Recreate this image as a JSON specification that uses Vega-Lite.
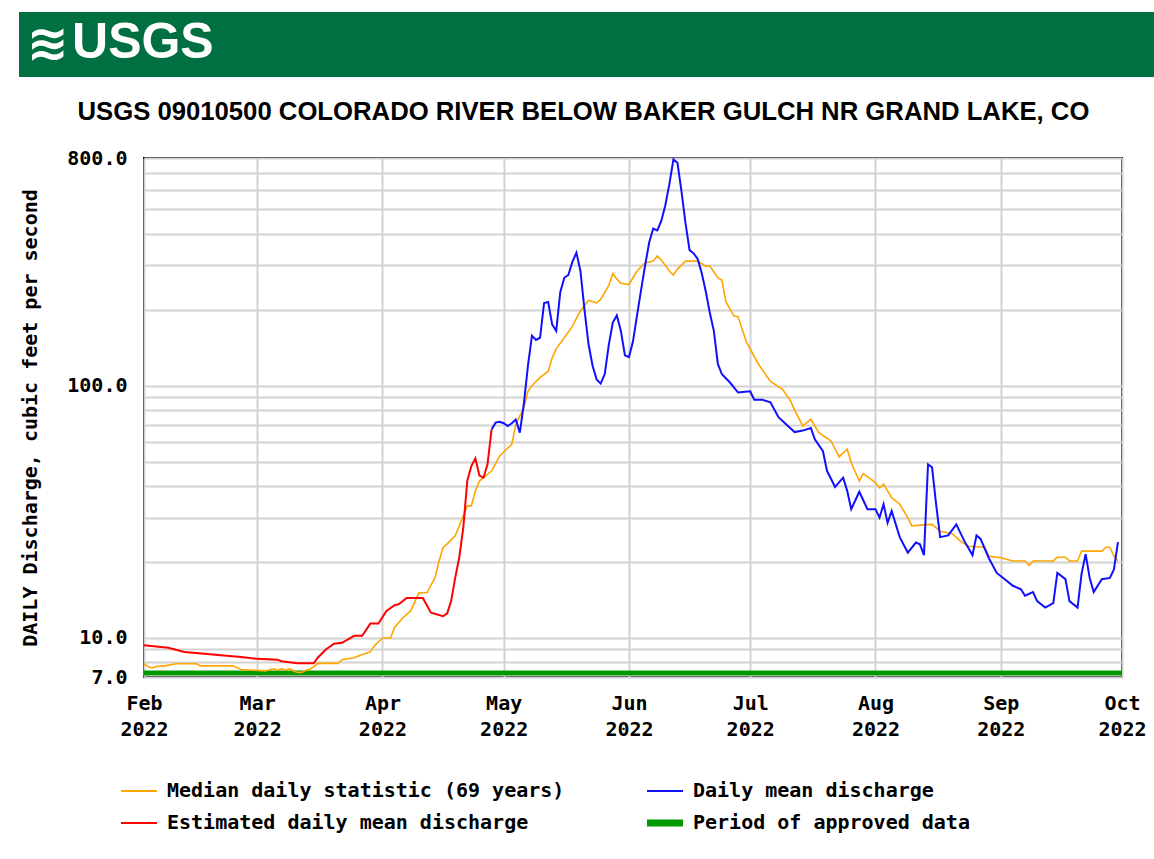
{
  "$schema": "https://vega.github.io/schema/vega-lite/v6.json",
  "background": "white",
  "padding": {"left": 19, "top": 12, "right": 0, "bottom": 0},
  "spacing": 21,
  "resolve": {"legend": {"color": "independent"}},
  "config": {
    "axis": {"labelColor": "black", "titleColor": "black"}
  },
  "vconcat": [
    {
      "width": 978,
      "height": 65,
      "view": {"stroke": null},
      "data": {"values": [{"logo": "≋", "name": "USGS"}]},
      "layer": [
        {
          "mark": {"type": "rect", "color": "#006F41"},
          "encoding": {
            "x": {"datum": -0.1278, "type": "quantitative", "scale": {"domain": [0, 1]}, "axis": null},
            "x2": {"datum": 1.0327},
            "y": {"datum": 0, "type": "quantitative", "scale": {"domain": [0, 1]}, "axis": null},
            "y2": {"datum": 1}
          }
        },
        {
          "mark": {"type": "text", "align": "left", "baseline": "middle", "font": "DejaVu Sans", "fontSize": 50, "fontWeight": "bold", "color": "white"},
          "encoding": {
            "x": {"datum": -0.1196, "type": "quantitative"},
            "y": {"datum": 0.5, "type": "quantitative"},
            "text": {"field": "logo"}
          }
        },
        {
          "mark": {"type": "text", "align": "left", "baseline": "middle", "font": "Liberation Sans Narrow, Liberation Sans, sans-serif", "fontWeight": "bold", "fontSize": 50, "color": "white"},
          "encoding": {
            "x": {"datum": -0.0736, "type": "quantitative"},
            "y": {"datum": 0.52, "type": "quantitative"},
            "text": {"field": "name"}
          }
        }
      ]
    },
    {
      "width": 978,
      "height": 519,
      "view": {"stroke": "black", "strokeWidth": 2},
      "title": {
        "text": "USGS 09010500 COLORADO RIVER BELOW BAKER GULCH NR GRAND LAKE, CO",
        "anchor": "middle",
        "frame": "bounds",
        "font": "Liberation Sans",
        "fontSize": 25.7,
        "fontWeight": "bold",
        "color": "black",
        "offset": 22
      },
      "data": {
        "values": [
          {"date": "2022-02-01", "value": 7.26, "series": "Period of approved data"},
          {"date": "2022-10-01", "value": 7.26, "series": "Period of approved data"},

          {"date": "2022-02-01", "value": 7.9, "series": "Median daily statistic (69 years)"},
          {"date": "2022-02-02", "value": 7.7, "series": "Median daily statistic (69 years)"},
          {"date": "2022-02-03", "value": 7.6, "series": "Median daily statistic (69 years)"},
          {"date": "2022-02-04", "value": 7.7, "series": "Median daily statistic (69 years)"},
          {"date": "2022-02-06", "value": 7.75, "series": "Median daily statistic (69 years)"},
          {"date": "2022-02-09", "value": 7.9, "series": "Median daily statistic (69 years)"},
          {"date": "2022-02-14", "value": 7.9, "series": "Median daily statistic (69 years)"},
          {"date": "2022-02-15", "value": 7.75, "series": "Median daily statistic (69 years)"},
          {"date": "2022-02-23", "value": 7.75, "series": "Median daily statistic (69 years)"},
          {"date": "2022-02-25", "value": 7.5, "series": "Median daily statistic (69 years)"},
          {"date": "2022-02-28", "value": 7.45, "series": "Median daily statistic (69 years)"},
          {"date": "2022-03-03", "value": 7.4, "series": "Median daily statistic (69 years)"},
          {"date": "2022-03-05", "value": 7.55, "series": "Median daily statistic (69 years)"},
          {"date": "2022-03-06", "value": 7.45, "series": "Median daily statistic (69 years)"},
          {"date": "2022-03-07", "value": 7.55, "series": "Median daily statistic (69 years)"},
          {"date": "2022-03-08", "value": 7.45, "series": "Median daily statistic (69 years)"},
          {"date": "2022-03-09", "value": 7.55, "series": "Median daily statistic (69 years)"},
          {"date": "2022-03-10", "value": 7.4, "series": "Median daily statistic (69 years)"},
          {"date": "2022-03-11", "value": 7.3, "series": "Median daily statistic (69 years)"},
          {"date": "2022-03-12", "value": 7.3, "series": "Median daily statistic (69 years)"},
          {"date": "2022-03-13", "value": 7.45, "series": "Median daily statistic (69 years)"},
          {"date": "2022-03-14", "value": 7.5, "series": "Median daily statistic (69 years)"},
          {"date": "2022-03-15", "value": 7.7, "series": "Median daily statistic (69 years)"},
          {"date": "2022-03-16", "value": 7.93, "series": "Median daily statistic (69 years)"},
          {"date": "2022-03-21", "value": 7.93, "series": "Median daily statistic (69 years)"},
          {"date": "2022-03-22", "value": 8.2, "series": "Median daily statistic (69 years)"},
          {"date": "2022-03-25", "value": 8.35, "series": "Median daily statistic (69 years)"},
          {"date": "2022-03-27", "value": 8.6, "series": "Median daily statistic (69 years)"},
          {"date": "2022-03-29", "value": 8.8, "series": "Median daily statistic (69 years)"},
          {"date": "2022-03-30", "value": 9.3, "series": "Median daily statistic (69 years)"},
          {"date": "2022-04-01", "value": 10.0, "series": "Median daily statistic (69 years)"},
          {"date": "2022-04-03", "value": 10.0, "series": "Median daily statistic (69 years)"},
          {"date": "2022-04-04", "value": 11.0, "series": "Median daily statistic (69 years)"},
          {"date": "2022-04-06", "value": 12.0, "series": "Median daily statistic (69 years)"},
          {"date": "2022-04-08", "value": 12.8, "series": "Median daily statistic (69 years)"},
          {"date": "2022-04-10", "value": 15.1, "series": "Median daily statistic (69 years)"},
          {"date": "2022-04-12", "value": 15.1, "series": "Median daily statistic (69 years)"},
          {"date": "2022-04-14", "value": 17.3, "series": "Median daily statistic (69 years)"},
          {"date": "2022-04-15", "value": 20.2, "series": "Median daily statistic (69 years)"},
          {"date": "2022-04-16", "value": 22.8, "series": "Median daily statistic (69 years)"},
          {"date": "2022-04-17", "value": 23.6, "series": "Median daily statistic (69 years)"},
          {"date": "2022-04-19", "value": 25.4, "series": "Median daily statistic (69 years)"},
          {"date": "2022-04-20", "value": 27.8, "series": "Median daily statistic (69 years)"},
          {"date": "2022-04-22", "value": 33.4, "series": "Median daily statistic (69 years)"},
          {"date": "2022-04-23", "value": 33.4, "series": "Median daily statistic (69 years)"},
          {"date": "2022-04-24", "value": 38.3, "series": "Median daily statistic (69 years)"},
          {"date": "2022-04-25", "value": 41.9, "series": "Median daily statistic (69 years)"},
          {"date": "2022-04-28", "value": 45.9, "series": "Median daily statistic (69 years)"},
          {"date": "2022-04-30", "value": 52.6, "series": "Median daily statistic (69 years)"},
          {"date": "2022-05-01", "value": 54.6, "series": "Median daily statistic (69 years)"},
          {"date": "2022-05-03", "value": 58.6, "series": "Median daily statistic (69 years)"},
          {"date": "2022-05-04", "value": 70, "series": "Median daily statistic (69 years)"},
          {"date": "2022-05-05", "value": 76, "series": "Median daily statistic (69 years)"},
          {"date": "2022-05-06", "value": 82, "series": "Median daily statistic (69 years)"},
          {"date": "2022-05-07", "value": 95, "series": "Median daily statistic (69 years)"},
          {"date": "2022-05-08", "value": 100, "series": "Median daily statistic (69 years)"},
          {"date": "2022-05-09", "value": 104, "series": "Median daily statistic (69 years)"},
          {"date": "2022-05-10", "value": 108, "series": "Median daily statistic (69 years)"},
          {"date": "2022-05-12", "value": 114, "series": "Median daily statistic (69 years)"},
          {"date": "2022-05-13", "value": 129, "series": "Median daily statistic (69 years)"},
          {"date": "2022-05-14", "value": 140, "series": "Median daily statistic (69 years)"},
          {"date": "2022-05-16", "value": 155, "series": "Median daily statistic (69 years)"},
          {"date": "2022-05-18", "value": 172, "series": "Median daily statistic (69 years)"},
          {"date": "2022-05-19", "value": 185, "series": "Median daily statistic (69 years)"},
          {"date": "2022-05-20", "value": 198, "series": "Median daily statistic (69 years)"},
          {"date": "2022-05-21", "value": 208, "series": "Median daily statistic (69 years)"},
          {"date": "2022-05-22", "value": 218, "series": "Median daily statistic (69 years)"},
          {"date": "2022-05-24", "value": 213, "series": "Median daily statistic (69 years)"},
          {"date": "2022-05-25", "value": 220, "series": "Median daily statistic (69 years)"},
          {"date": "2022-05-27", "value": 250, "series": "Median daily statistic (69 years)"},
          {"date": "2022-05-28", "value": 278, "series": "Median daily statistic (69 years)"},
          {"date": "2022-05-29", "value": 265, "series": "Median daily statistic (69 years)"},
          {"date": "2022-05-30", "value": 255, "series": "Median daily statistic (69 years)"},
          {"date": "2022-06-01", "value": 252, "series": "Median daily statistic (69 years)"},
          {"date": "2022-06-03", "value": 285, "series": "Median daily statistic (69 years)"},
          {"date": "2022-06-05", "value": 307, "series": "Median daily statistic (69 years)"},
          {"date": "2022-06-07", "value": 312, "series": "Median daily statistic (69 years)"},
          {"date": "2022-06-08", "value": 327, "series": "Median daily statistic (69 years)"},
          {"date": "2022-06-09", "value": 315, "series": "Median daily statistic (69 years)"},
          {"date": "2022-06-11", "value": 285, "series": "Median daily statistic (69 years)"},
          {"date": "2022-06-12", "value": 275, "series": "Median daily statistic (69 years)"},
          {"date": "2022-06-13", "value": 290, "series": "Median daily statistic (69 years)"},
          {"date": "2022-06-15", "value": 312, "series": "Median daily statistic (69 years)"},
          {"date": "2022-06-18", "value": 312, "series": "Median daily statistic (69 years)"},
          {"date": "2022-06-20", "value": 298, "series": "Median daily statistic (69 years)"},
          {"date": "2022-06-21", "value": 298, "series": "Median daily statistic (69 years)"},
          {"date": "2022-06-23", "value": 268, "series": "Median daily statistic (69 years)"},
          {"date": "2022-06-24", "value": 262, "series": "Median daily statistic (69 years)"},
          {"date": "2022-06-25", "value": 215, "series": "Median daily statistic (69 years)"},
          {"date": "2022-06-27", "value": 189, "series": "Median daily statistic (69 years)"},
          {"date": "2022-06-28", "value": 188, "series": "Median daily statistic (69 years)"},
          {"date": "2022-06-30", "value": 150, "series": "Median daily statistic (69 years)"},
          {"date": "2022-07-03", "value": 122, "series": "Median daily statistic (69 years)"},
          {"date": "2022-07-06", "value": 104, "series": "Median daily statistic (69 years)"},
          {"date": "2022-07-09", "value": 96.8, "series": "Median daily statistic (69 years)"},
          {"date": "2022-07-11", "value": 87, "series": "Median daily statistic (69 years)"},
          {"date": "2022-07-12", "value": 80, "series": "Median daily statistic (69 years)"},
          {"date": "2022-07-14", "value": 69.2, "series": "Median daily statistic (69 years)"},
          {"date": "2022-07-16", "value": 73.6, "series": "Median daily statistic (69 years)"},
          {"date": "2022-07-18", "value": 65.2, "series": "Median daily statistic (69 years)"},
          {"date": "2022-07-21", "value": 60.4, "series": "Median daily statistic (69 years)"},
          {"date": "2022-07-23", "value": 52.2, "series": "Median daily statistic (69 years)"},
          {"date": "2022-07-25", "value": 56, "series": "Median daily statistic (69 years)"},
          {"date": "2022-07-26", "value": 49.5, "series": "Median daily statistic (69 years)"},
          {"date": "2022-07-28", "value": 41.9, "series": "Median daily statistic (69 years)"},
          {"date": "2022-07-29", "value": 44.8, "series": "Median daily statistic (69 years)"},
          {"date": "2022-08-01", "value": 41.3, "series": "Median daily statistic (69 years)"},
          {"date": "2022-08-02", "value": 39.4, "series": "Median daily statistic (69 years)"},
          {"date": "2022-08-03", "value": 40.7, "series": "Median daily statistic (69 years)"},
          {"date": "2022-08-05", "value": 36, "series": "Median daily statistic (69 years)"},
          {"date": "2022-08-07", "value": 33.9, "series": "Median daily statistic (69 years)"},
          {"date": "2022-08-09", "value": 30, "series": "Median daily statistic (69 years)"},
          {"date": "2022-08-10", "value": 27.8, "series": "Median daily statistic (69 years)"},
          {"date": "2022-08-12", "value": 28, "series": "Median daily statistic (69 years)"},
          {"date": "2022-08-15", "value": 28.2, "series": "Median daily statistic (69 years)"},
          {"date": "2022-08-17", "value": 26.5, "series": "Median daily statistic (69 years)"},
          {"date": "2022-08-20", "value": 25.9, "series": "Median daily statistic (69 years)"},
          {"date": "2022-08-22", "value": 24.2, "series": "Median daily statistic (69 years)"},
          {"date": "2022-08-24", "value": 23.1, "series": "Median daily statistic (69 years)"},
          {"date": "2022-08-28", "value": 22.9, "series": "Median daily statistic (69 years)"},
          {"date": "2022-08-29", "value": 21.1, "series": "Median daily statistic (69 years)"},
          {"date": "2022-09-01", "value": 20.8, "series": "Median daily statistic (69 years)"},
          {"date": "2022-09-04", "value": 20.2, "series": "Median daily statistic (69 years)"},
          {"date": "2022-09-07", "value": 20.2, "series": "Median daily statistic (69 years)"},
          {"date": "2022-09-08", "value": 19.4, "series": "Median daily statistic (69 years)"},
          {"date": "2022-09-09", "value": 20.2, "series": "Median daily statistic (69 years)"},
          {"date": "2022-09-14", "value": 20.2, "series": "Median daily statistic (69 years)"},
          {"date": "2022-09-15", "value": 20.9, "series": "Median daily statistic (69 years)"},
          {"date": "2022-09-17", "value": 20.9, "series": "Median daily statistic (69 years)"},
          {"date": "2022-09-18", "value": 20.2, "series": "Median daily statistic (69 years)"},
          {"date": "2022-09-20", "value": 20.2, "series": "Median daily statistic (69 years)"},
          {"date": "2022-09-21", "value": 22.1, "series": "Median daily statistic (69 years)"},
          {"date": "2022-09-26", "value": 22.1, "series": "Median daily statistic (69 years)"},
          {"date": "2022-09-27", "value": 22.9, "series": "Median daily statistic (69 years)"},
          {"date": "2022-09-28", "value": 22.9, "series": "Median daily statistic (69 years)"},
          {"date": "2022-09-29", "value": 21.1, "series": "Median daily statistic (69 years)"},
          {"date": "2022-09-30", "value": 20.2, "series": "Median daily statistic (69 years)"},

          {"date": "2022-02-01", "value": 9.35, "series": "Estimated daily mean discharge"},
          {"date": "2022-02-07", "value": 9.15, "series": "Estimated daily mean discharge"},
          {"date": "2022-02-11", "value": 8.8, "series": "Estimated daily mean discharge"},
          {"date": "2022-02-16", "value": 8.66, "series": "Estimated daily mean discharge"},
          {"date": "2022-02-20", "value": 8.53, "series": "Estimated daily mean discharge"},
          {"date": "2022-02-25", "value": 8.4, "series": "Estimated daily mean discharge"},
          {"date": "2022-03-01", "value": 8.26, "series": "Estimated daily mean discharge"},
          {"date": "2022-03-06", "value": 8.2, "series": "Estimated daily mean discharge"},
          {"date": "2022-03-07", "value": 8.08, "series": "Estimated daily mean discharge"},
          {"date": "2022-03-11", "value": 7.93, "series": "Estimated daily mean discharge"},
          {"date": "2022-03-15", "value": 7.93, "series": "Estimated daily mean discharge"},
          {"date": "2022-03-16", "value": 8.35, "series": "Estimated daily mean discharge"},
          {"date": "2022-03-18", "value": 9.0, "series": "Estimated daily mean discharge"},
          {"date": "2022-03-20", "value": 9.49, "series": "Estimated daily mean discharge"},
          {"date": "2022-03-22", "value": 9.57, "series": "Estimated daily mean discharge"},
          {"date": "2022-03-25", "value": 10.2, "series": "Estimated daily mean discharge"},
          {"date": "2022-03-27", "value": 10.2, "series": "Estimated daily mean discharge"},
          {"date": "2022-03-29", "value": 11.4, "series": "Estimated daily mean discharge"},
          {"date": "2022-03-31", "value": 11.4, "series": "Estimated daily mean discharge"},
          {"date": "2022-04-02", "value": 12.8, "series": "Estimated daily mean discharge"},
          {"date": "2022-04-04", "value": 13.5, "series": "Estimated daily mean discharge"},
          {"date": "2022-04-05", "value": 13.6, "series": "Estimated daily mean discharge"},
          {"date": "2022-04-07", "value": 14.4, "series": "Estimated daily mean discharge"},
          {"date": "2022-04-11", "value": 14.4, "series": "Estimated daily mean discharge"},
          {"date": "2022-04-13", "value": 12.6, "series": "Estimated daily mean discharge"},
          {"date": "2022-04-16", "value": 12.2, "series": "Estimated daily mean discharge"},
          {"date": "2022-04-17", "value": 12.5, "series": "Estimated daily mean discharge"},
          {"date": "2022-04-18", "value": 14.0, "series": "Estimated daily mean discharge"},
          {"date": "2022-04-19", "value": 17.3, "series": "Estimated daily mean discharge"},
          {"date": "2022-04-20", "value": 20.8, "series": "Estimated daily mean discharge"},
          {"date": "2022-04-21", "value": 27.3, "series": "Estimated daily mean discharge"},
          {"date": "2022-04-22", "value": 42, "series": "Estimated daily mean discharge"},
          {"date": "2022-04-23", "value": 48, "series": "Estimated daily mean discharge"},
          {"date": "2022-04-24", "value": 51.5, "series": "Estimated daily mean discharge"},
          {"date": "2022-04-25", "value": 44, "series": "Estimated daily mean discharge"},
          {"date": "2022-04-26", "value": 43.2, "series": "Estimated daily mean discharge"},
          {"date": "2022-04-27", "value": 48.8, "series": "Estimated daily mean discharge"},
          {"date": "2022-04-28", "value": 67, "series": "Estimated daily mean discharge"},

          {"date": "2022-04-28", "value": 67, "series": "Daily mean discharge"},
          {"date": "2022-04-29", "value": 71.4, "series": "Daily mean discharge"},
          {"date": "2022-04-30", "value": 72, "series": "Daily mean discharge"},
          {"date": "2022-05-01", "value": 71, "series": "Daily mean discharge"},
          {"date": "2022-05-02", "value": 69.2, "series": "Daily mean discharge"},
          {"date": "2022-05-03", "value": 71, "series": "Daily mean discharge"},
          {"date": "2022-05-04", "value": 73.5, "series": "Daily mean discharge"},
          {"date": "2022-05-05", "value": 65.2, "series": "Daily mean discharge"},
          {"date": "2022-05-06", "value": 85, "series": "Daily mean discharge"},
          {"date": "2022-05-07", "value": 120, "series": "Daily mean discharge"},
          {"date": "2022-05-08", "value": 158, "series": "Daily mean discharge"},
          {"date": "2022-05-09", "value": 152, "series": "Daily mean discharge"},
          {"date": "2022-05-10", "value": 155, "series": "Daily mean discharge"},
          {"date": "2022-05-11", "value": 213, "series": "Daily mean discharge"},
          {"date": "2022-05-12", "value": 215, "series": "Daily mean discharge"},
          {"date": "2022-05-13", "value": 175, "series": "Daily mean discharge"},
          {"date": "2022-05-14", "value": 165, "series": "Daily mean discharge"},
          {"date": "2022-05-15", "value": 235, "series": "Daily mean discharge"},
          {"date": "2022-05-16", "value": 268, "series": "Daily mean discharge"},
          {"date": "2022-05-17", "value": 275, "series": "Daily mean discharge"},
          {"date": "2022-05-18", "value": 310, "series": "Daily mean discharge"},
          {"date": "2022-05-19", "value": 337, "series": "Daily mean discharge"},
          {"date": "2022-05-20", "value": 285, "series": "Daily mean discharge"},
          {"date": "2022-05-21", "value": 200, "series": "Daily mean discharge"},
          {"date": "2022-05-22", "value": 146, "series": "Daily mean discharge"},
          {"date": "2022-05-23", "value": 120, "series": "Daily mean discharge"},
          {"date": "2022-05-24", "value": 106, "series": "Daily mean discharge"},
          {"date": "2022-05-25", "value": 102, "series": "Daily mean discharge"},
          {"date": "2022-05-26", "value": 111, "series": "Daily mean discharge"},
          {"date": "2022-05-27", "value": 145, "series": "Daily mean discharge"},
          {"date": "2022-05-28", "value": 178, "series": "Daily mean discharge"},
          {"date": "2022-05-29", "value": 190, "series": "Daily mean discharge"},
          {"date": "2022-05-30", "value": 165, "series": "Daily mean discharge"},
          {"date": "2022-05-31", "value": 132, "series": "Daily mean discharge"},
          {"date": "2022-06-01", "value": 130, "series": "Daily mean discharge"},
          {"date": "2022-06-02", "value": 150, "series": "Daily mean discharge"},
          {"date": "2022-06-03", "value": 190, "series": "Daily mean discharge"},
          {"date": "2022-06-04", "value": 240, "series": "Daily mean discharge"},
          {"date": "2022-06-05", "value": 300, "series": "Daily mean discharge"},
          {"date": "2022-06-06", "value": 370, "series": "Daily mean discharge"},
          {"date": "2022-06-07", "value": 420, "series": "Daily mean discharge"},
          {"date": "2022-06-08", "value": 413, "series": "Daily mean discharge"},
          {"date": "2022-06-09", "value": 450, "series": "Daily mean discharge"},
          {"date": "2022-06-10", "value": 520, "series": "Daily mean discharge"},
          {"date": "2022-06-11", "value": 630, "series": "Daily mean discharge"},
          {"date": "2022-06-12", "value": 790, "series": "Daily mean discharge"},
          {"date": "2022-06-13", "value": 766, "series": "Daily mean discharge"},
          {"date": "2022-06-14", "value": 590, "series": "Daily mean discharge"},
          {"date": "2022-06-15", "value": 440, "series": "Daily mean discharge"},
          {"date": "2022-06-16", "value": 345, "series": "Daily mean discharge"},
          {"date": "2022-06-17", "value": 335, "series": "Daily mean discharge"},
          {"date": "2022-06-18", "value": 318, "series": "Daily mean discharge"},
          {"date": "2022-06-19", "value": 280, "series": "Daily mean discharge"},
          {"date": "2022-06-20", "value": 237, "series": "Daily mean discharge"},
          {"date": "2022-06-21", "value": 195, "series": "Daily mean discharge"},
          {"date": "2022-06-22", "value": 165, "series": "Daily mean discharge"},
          {"date": "2022-06-23", "value": 122, "series": "Daily mean discharge"},
          {"date": "2022-06-24", "value": 111, "series": "Daily mean discharge"},
          {"date": "2022-06-26", "value": 103, "series": "Daily mean discharge"},
          {"date": "2022-06-28", "value": 94, "series": "Daily mean discharge"},
          {"date": "2022-07-01", "value": 95, "series": "Daily mean discharge"},
          {"date": "2022-07-02", "value": 88, "series": "Daily mean discharge"},
          {"date": "2022-07-04", "value": 88, "series": "Daily mean discharge"},
          {"date": "2022-07-06", "value": 86, "series": "Daily mean discharge"},
          {"date": "2022-07-08", "value": 75, "series": "Daily mean discharge"},
          {"date": "2022-07-10", "value": 70, "series": "Daily mean discharge"},
          {"date": "2022-07-12", "value": 65.5, "series": "Daily mean discharge"},
          {"date": "2022-07-14", "value": 66.4, "series": "Daily mean discharge"},
          {"date": "2022-07-16", "value": 68, "series": "Daily mean discharge"},
          {"date": "2022-07-17", "value": 61.3, "series": "Daily mean discharge"},
          {"date": "2022-07-19", "value": 55, "series": "Daily mean discharge"},
          {"date": "2022-07-20", "value": 46, "series": "Daily mean discharge"},
          {"date": "2022-07-22", "value": 39.7, "series": "Daily mean discharge"},
          {"date": "2022-07-24", "value": 43.2, "series": "Daily mean discharge"},
          {"date": "2022-07-25", "value": 38.3, "series": "Daily mean discharge"},
          {"date": "2022-07-26", "value": 32.4, "series": "Daily mean discharge"},
          {"date": "2022-07-28", "value": 38, "series": "Daily mean discharge"},
          {"date": "2022-07-30", "value": 32.4, "series": "Daily mean discharge"},
          {"date": "2022-08-01", "value": 32.4, "series": "Daily mean discharge"},
          {"date": "2022-08-02", "value": 30, "series": "Daily mean discharge"},
          {"date": "2022-08-03", "value": 33.9, "series": "Daily mean discharge"},
          {"date": "2022-08-04", "value": 28.6, "series": "Daily mean discharge"},
          {"date": "2022-08-05", "value": 31.9, "series": "Daily mean discharge"},
          {"date": "2022-08-07", "value": 25.1, "series": "Daily mean discharge"},
          {"date": "2022-08-09", "value": 21.8, "series": "Daily mean discharge"},
          {"date": "2022-08-11", "value": 23.9, "series": "Daily mean discharge"},
          {"date": "2022-08-12", "value": 23.5, "series": "Daily mean discharge"},
          {"date": "2022-08-13", "value": 21.3, "series": "Daily mean discharge"},
          {"date": "2022-08-14", "value": 48.8, "series": "Daily mean discharge"},
          {"date": "2022-08-15", "value": 47.5, "series": "Daily mean discharge"},
          {"date": "2022-08-16", "value": 33.9, "series": "Daily mean discharge"},
          {"date": "2022-08-17", "value": 25.1, "series": "Daily mean discharge"},
          {"date": "2022-08-19", "value": 25.5, "series": "Daily mean discharge"},
          {"date": "2022-08-21", "value": 28.2, "series": "Daily mean discharge"},
          {"date": "2022-08-23", "value": 24.2, "series": "Daily mean discharge"},
          {"date": "2022-08-25", "value": 21.3, "series": "Daily mean discharge"},
          {"date": "2022-08-26", "value": 25.5, "series": "Daily mean discharge"},
          {"date": "2022-08-27", "value": 24.7, "series": "Daily mean discharge"},
          {"date": "2022-08-29", "value": 20.8, "series": "Daily mean discharge"},
          {"date": "2022-08-31", "value": 18.1, "series": "Daily mean discharge"},
          {"date": "2022-09-02", "value": 17.1, "series": "Daily mean discharge"},
          {"date": "2022-09-04", "value": 16.1, "series": "Daily mean discharge"},
          {"date": "2022-09-06", "value": 15.6, "series": "Daily mean discharge"},
          {"date": "2022-09-07", "value": 14.7, "series": "Daily mean discharge"},
          {"date": "2022-09-09", "value": 15.2, "series": "Daily mean discharge"},
          {"date": "2022-09-10", "value": 14.0, "series": "Daily mean discharge"},
          {"date": "2022-09-12", "value": 13.2, "series": "Daily mean discharge"},
          {"date": "2022-09-14", "value": 13.75, "series": "Daily mean discharge"},
          {"date": "2022-09-15", "value": 18.1, "series": "Daily mean discharge"},
          {"date": "2022-09-17", "value": 17.1, "series": "Daily mean discharge"},
          {"date": "2022-09-18", "value": 14.0, "series": "Daily mean discharge"},
          {"date": "2022-09-20", "value": 13.2, "series": "Daily mean discharge"},
          {"date": "2022-09-21", "value": 18.0, "series": "Daily mean discharge"},
          {"date": "2022-09-22", "value": 21.5, "series": "Daily mean discharge"},
          {"date": "2022-09-23", "value": 17.3, "series": "Daily mean discharge"},
          {"date": "2022-09-24", "value": 15.2, "series": "Daily mean discharge"},
          {"date": "2022-09-26", "value": 17.1, "series": "Daily mean discharge"},
          {"date": "2022-09-28", "value": 17.3, "series": "Daily mean discharge"},
          {"date": "2022-09-29", "value": 18.7, "series": "Daily mean discharge"},
          {"date": "2022-09-30", "value": 24.0, "series": "Daily mean discharge"}
        ]
      },
      "encoding": {
        "x": {
          "field": "date",
          "type": "temporal",
          "scale": {
            "type": "utc",
            "domain": [
              {"year": 2022, "month": 2, "date": 1, "utc": true},
              {"year": 2022, "month": 10, "date": 1, "utc": true}
            ],
            "nice": false
          },
          "axis": {
            "title": null,
            "values": [
              {"year": 2022, "month": 2, "date": 1, "utc": true},
              {"year": 2022, "month": 3, "date": 1, "utc": true},
              {"year": 2022, "month": 4, "date": 1, "utc": true},
              {"year": 2022, "month": 5, "date": 1, "utc": true},
              {"year": 2022, "month": 6, "date": 1, "utc": true},
              {"year": 2022, "month": 7, "date": 1, "utc": true},
              {"year": 2022, "month": 8, "date": 1, "utc": true},
              {"year": 2022, "month": 9, "date": 1, "utc": true},
              {"year": 2022, "month": 10, "date": 1, "utc": true}
            ],
            "labelExpr": "[utcFormat(datum.value, '%b'), utcFormat(datum.value, '%Y')]",
            "labelFont": "DejaVu Sans Mono",
            "labelFontSize": 20,
            "labelFontWeight": "bold",
            "labelColor": "black",
            "labelLineHeight": 26,
            "labelPadding": 16,
            "labelOverlap": false,
            "labelFlush": false,
            "ticks": false,
            "tickSize": 0,
            "domain": false,
            "grid": true,
            "gridColor": "#d2d2d2",
            "gridWidth": 2
          }
        },
        "y": {
          "field": "value",
          "type": "quantitative",
          "scale": {"type": "log", "domain": [7, 800], "nice": false},
          "axis": {
            "title": "DAILY Discharge, cubic feet per second",
            "titleFont": "DejaVu Sans Mono",
            "titleFontSize": 20,
            "titleFontWeight": "bold",
            "titleColor": "black",
            "titlePadding": 26,
            "values": [7, 8, 9, 10, 20, 30, 40, 50, 60, 70, 80, 90, 100, 200, 300, 400, 500, 600, 700, 800],
            "labelExpr": "indexof([7, 10, 100, 800], datum.value) >= 0 ? format(datum.value, '.1f') : ''",
            "labelFont": "DejaVu Sans Mono",
            "labelFontSize": 20,
            "labelFontWeight": "bold",
            "labelColor": "black",
            "labelPadding": 17,
            "labelOverlap": false,
            "labelFlush": false,
            "ticks": false,
            "tickSize": 0,
            "domain": false,
            "grid": true,
            "gridColor": "#d2d2d2",
            "gridWidth": 2
          }
        },
        "color": {
          "field": "series",
          "type": "nominal",
          "scale": {
            "domain": ["Median daily statistic (69 years)", "Estimated daily mean discharge", "Daily mean discharge", "Period of approved data"],
            "range": ["#FFA500", "#FF0000", "#1010FF", "#009A00"]
          },
          "legend": {
            "title": null,
            "orient": "none",
            "legendX": -15,
            "legendY": 623,
            "columns": 2,
            "columnPadding": 68,
            "rowPadding": 8,
            "padding": 0,
            "symbolType": "stroke",
            "symbolSize": 1296,
            "symbolStrokeWidth": 2,
            "labelOffset": 18,
            "labelFont": "DejaVu Sans Mono",
            "labelFontSize": 20,
            "labelFontWeight": "bold",
            "labelColor": "black",
            "labelLimit": 0,
            "encode": {
              "symbols": {
                "update": {
                  "strokeWidth": {"signal": "datum.label === 'Period of approved data' ? 7 : 2"}
                }
              }
            }
          }
        }
      },
      "layer": [
        {
          "transform": [{"filter": {"field": "series", "equal": "Period of approved data"}}],
          "mark": {"type": "line", "strokeWidth": 5, "strokeCap": "butt"}
        },
        {
          "transform": [{"filter": {"field": "series", "equal": "Median daily statistic (69 years)"}}],
          "mark": {"type": "line", "strokeWidth": 1.6}
        },
        {
          "transform": [{"filter": {"field": "series", "equal": "Estimated daily mean discharge"}}],
          "mark": {"type": "line", "strokeWidth": 2}
        },
        {
          "transform": [{"filter": {"field": "series", "equal": "Daily mean discharge"}}],
          "mark": {"type": "line", "strokeWidth": 2}
        }
      ]
    }
  ]
}
